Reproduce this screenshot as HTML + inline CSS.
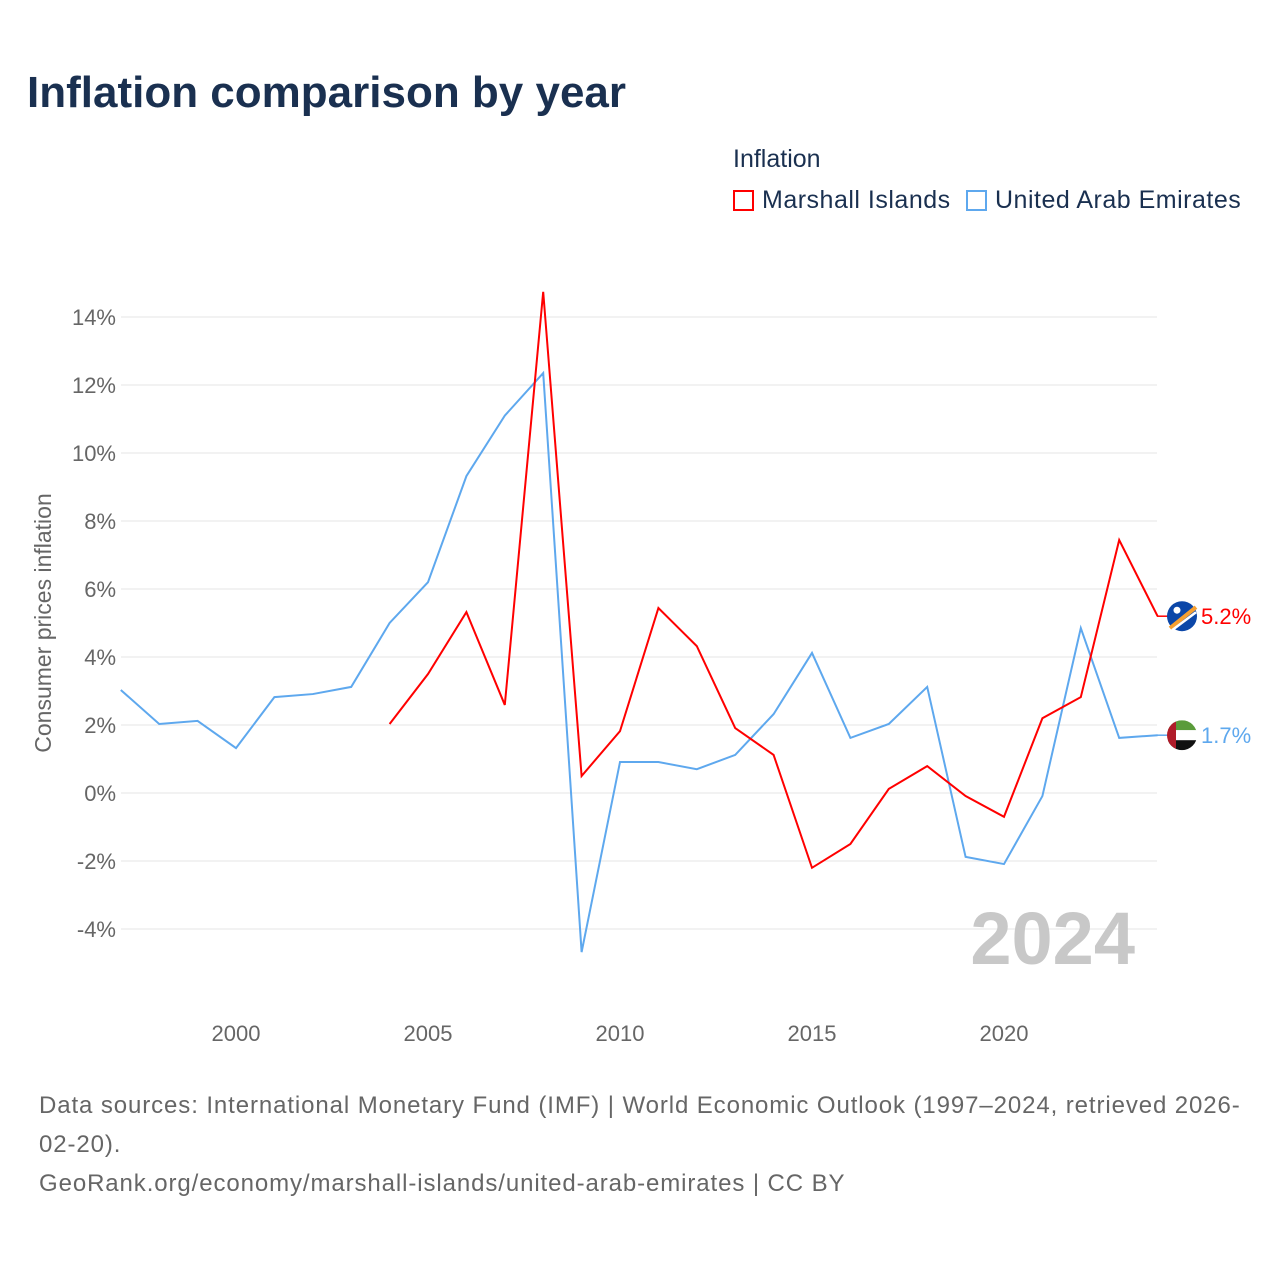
<!DOCTYPE html>
<html><head><meta charset="utf-8"><style>
html,body{margin:0;padding:0;background:#fff}
body{width:1280px;height:1280px;position:relative;font-family:"Liberation Sans",sans-serif;overflow:hidden}
.t{position:absolute;white-space:nowrap}
</style></head><body>
<div class="t" style="left:27px;top:68px;font-size:44px;font-weight:bold;color:#1a3050">Inflation comparison by year</div>
<div class="t" style="left:733px;top:145px;font-size:25px;color:#1a3050">Inflation</div>
<div class="t" style="left:733px;top:186px;font-size:25px;color:#1a3050;letter-spacing:0.5px"><span style="display:inline-block;width:21px;height:21px;border:2px solid #f00;vertical-align:-3px;margin-right:8px;box-sizing:border-box"></span>Marshall Islands</div>
<div class="t" style="left:966px;top:186px;font-size:25px;color:#1a3050;letter-spacing:0.5px"><span style="display:inline-block;width:21px;height:21px;border:2px solid #5ea8ee;vertical-align:-3px;margin-right:8px;box-sizing:border-box"></span>United Arab Emirates</div>
<svg id="chart" width="1280" height="1280" style="position:absolute;left:0;top:0" xmlns="http://www.w3.org/2000/svg"></svg>
<div class="t" style="left:39px;top:1086px;font-size:24px;line-height:39px;color:#666;letter-spacing:0.9px">Data sources: International Monetary Fund (IMF) | World Economic Outlook (1997–2024, retrieved 2026-<br>02-20).<br>GeoRank.org/economy/marshall-islands/united-arab-emirates | CC BY</div>
<script>
const years=[1997,1998,1999,2000,2001,2002,2003,2004,2005,2006,2007,2008,2009,2010,2011,2012,2013,2014,2015,2016,2017,2018,2019,2020,2021,2022,2023,2024];
const uae=[3.03,2.03,2.12,1.32,2.82,2.91,3.12,5.0,6.2,9.32,11.1,12.35,-4.68,0.91,0.91,0.7,1.12,2.32,4.12,1.62,2.03,3.12,-1.88,-2.09,-0.09,4.85,1.62,1.7];
const mhl=[null,null,null,null,null,null,null,2.03,3.5,5.32,2.59,14.74,0.5,1.82,5.44,4.32,1.91,1.12,-2.2,-1.5,0.12,0.79,-0.09,-0.7,2.2,2.82,7.44,5.2];
const yTicks=[-4,-2,0,2,4,6,8,10,12,14];
const xTicks=[2000,2005,2010,2015,2020];
const X=y=>236+(y-2000)*38.4, Y=v=>793-v*34;
const svg=document.getElementById('chart'),NS='http://www.w3.org/2000/svg';
function mk(tag,attrs,parent){const e=document.createElementNS(NS,tag);for(const k in attrs)e.setAttribute(k,attrs[k]);(parent||svg).appendChild(e);return e;}
yTicks.forEach(v=>{
 const l=mk('line',{x1:121,x2:1157,y1:Y(v),y2:Y(v),stroke:'#e6e6e6','stroke-width':1});
 
 
 const t=mk('text',{x:116,y:Y(v)+8,'text-anchor':'end','font-size':22,fill:'#666','font-family':'Liberation Sans'});
 t.textContent=v+'%';
 
 
});
xTicks.forEach(v=>{
 const t=mk('text',{x:X(v),y:1041,'text-anchor':'middle','font-size':22,fill:'#666','font-family':'Liberation Sans'});
 t.textContent=v;
 
 
});
const yt=mk('text',{transform:'translate(51,623) rotate(-90)','text-anchor':'middle','font-size':23,fill:'#666','font-family':'Liberation Sans'});
yt.textContent='Consumer prices inflation';


const yr=mk('text',{x:1135,y:964,'text-anchor':'end','font-size':74,'font-weight':'bold',fill:'#c8c8c8','font-family':'Liberation Sans'});
yr.textContent='2024';


function line(vals,color,name){
 const pts=[];vals.forEach((v,i)=>{if(v!==null)pts.push(X(years[i])+','+Y(v));});
 const p=mk('polyline',{points:pts.join(' '),fill:'none',stroke:color,'stroke-width':2});
 
 
}
line(uae,'#5ea8ee','uae-line');
line(mhl,'#f00','marshall-islands-line');
const lm=mhl[mhl.length-1],lu=uae[uae.length-1];
mk('line',{x1:1157,x2:1168,y1:Y(lm),y2:Y(lm),stroke:'#f00','stroke-width':1.5});
mk('line',{x1:1157,x2:1168,y1:Y(lu),y2:Y(lu),stroke:'#5ea8ee','stroke-width':1.5});
const fm=mk('g',{});


mk('circle',{cx:1182,cy:Y(lm),r:15,fill:'#0c47a8'},fm);
mk('line',{x1:1170,x2:1196,y1:Y(lm)+12,y2:Y(lm)-9,stroke:'#f7a030','stroke-width':4},fm);
mk('line',{x1:1172,x2:1196,y1:Y(lm)+14,y2:Y(lm)-4,stroke:'#fff','stroke-width':2.5},fm);
mk('circle',{cx:1177,cy:Y(lm)-6,r:3.5,fill:'#fff'},fm);
const fu=mk('g',{});


const cy=Y(lu);
mk('clipPath',{id:'cu'},fu);mk('circle',{cx:1182,cy:cy,r:15},fu.lastChild);
const gg=mk('g',{'clip-path':'url(#cu)'},fu);
mk('rect',{x:1167,y:cy-15,width:30,height:10,fill:'#5a9b3a'},gg);
mk('rect',{x:1167,y:cy-5,width:30,height:10,fill:'#fff'},gg);
mk('rect',{x:1167,y:cy+5,width:30,height:10,fill:'#111'},gg);
mk('rect',{x:1167,y:cy-15,width:9,height:30,fill:'#b01c2a'},gg);
const tm=mk('text',{x:1201,y:Y(lm)+8,'font-size':22,fill:'#f00','font-family':'Liberation Sans'});
tm.textContent=lm.toFixed(1)+'%';


const tu=mk('text',{x:1201,y:Y(lu)+8,'font-size':22,fill:'#5ea8ee','font-family':'Liberation Sans'});
tu.textContent=lu.toFixed(1)+'%';


</script>
</body></html>
